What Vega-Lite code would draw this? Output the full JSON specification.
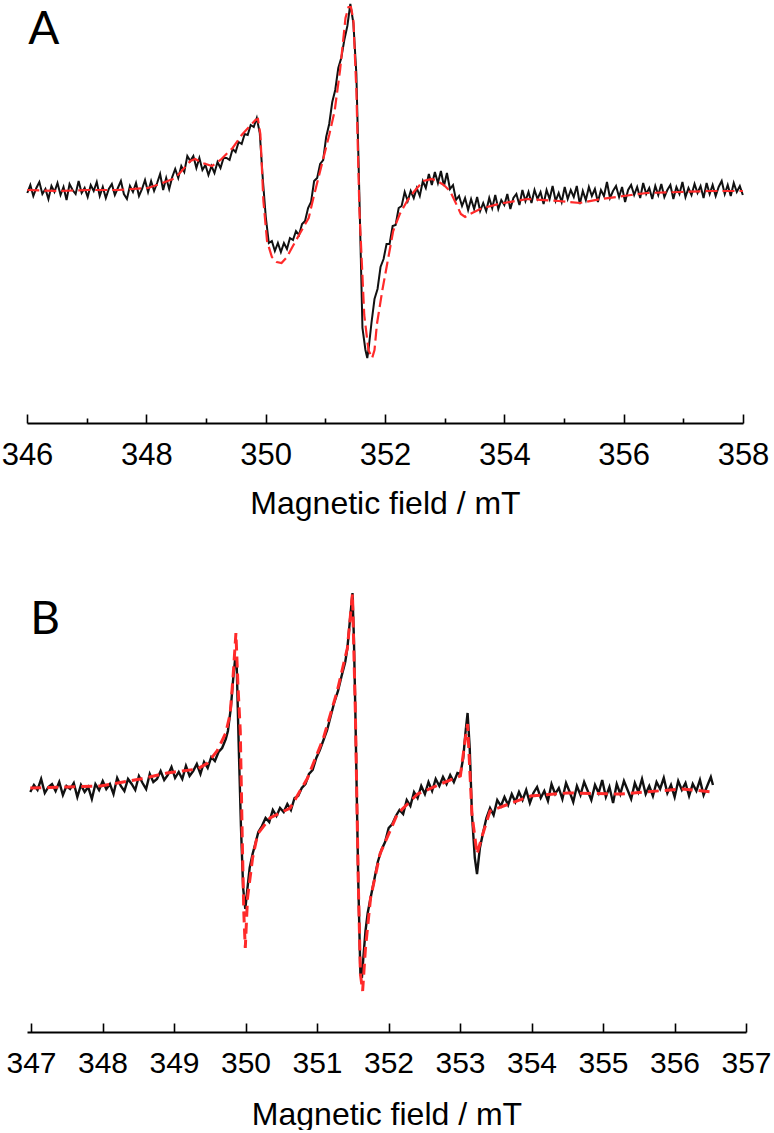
{
  "$schema": "https://vega.github.io/schema/vega-lite/v6.json",
  "background": "white",
  "padding": {"left": 1, "top": 0, "right": 2, "bottom": 0},
  "spacing": 67,
  "config": {
    "view": {"stroke": null},
    "axis": {"domainColor": "#000", "domainWidth": 2, "tickColor": "#000", "tickWidth": 1.6, "labelFont": "Liberation Sans", "labelColor": "#000", "titleFont": "Liberation Sans", "titleColor": "#000", "titleFontWeight": "normal", "grid": false, "labelFlush": false, "labelOverlap": false}
  },
  "datasets": {
    "a_exp": [
      {"mT":346.005,"signal":-3},{"mT":346.056,"signal":5},{"mT":346.106,"signal":-6},{"mT":346.157,"signal":2},{"mT":346.207,"signal":8},{"mT":346.258,"signal":-4},{"mT":346.309,"signal":1},{"mT":346.359,"signal":-9},{"mT":346.410,"signal":4},{"mT":346.460,"signal":-2},
      {"mT":346.511,"signal":7},{"mT":346.562,"signal":-5},{"mT":346.612,"signal":3},{"mT":346.663,"signal":-10},{"mT":346.713,"signal":6},{"mT":346.764,"signal":0},{"mT":346.815,"signal":-4},{"mT":346.865,"signal":9},{"mT":346.916,"signal":-3},{"mT":346.966,"signal":2},
      {"mT":347.017,"signal":-7},{"mT":347.068,"signal":5},{"mT":347.118,"signal":-1},{"mT":347.169,"signal":8},{"mT":347.219,"signal":-6},{"mT":347.270,"signal":3},{"mT":347.321,"signal":-8},{"mT":347.371,"signal":1},{"mT":347.422,"signal":6},{"mT":347.472,"signal":-5},
      {"mT":347.523,"signal":2},{"mT":347.574,"signal":9},{"mT":347.624,"signal":-4},{"mT":347.675,"signal":-9},{"mT":347.725,"signal":4},{"mT":347.776,"signal":-2},{"mT":347.827,"signal":7},{"mT":347.877,"signal":-6},{"mT":347.928,"signal":1},{"mT":347.978,"signal":10},
      {"mT":348.029,"signal":-2},{"mT":348.080,"signal":9},{"mT":348.130,"signal":-1},{"mT":348.181,"signal":7},{"mT":348.231,"signal":16},{"mT":348.282,"signal":0},{"mT":348.333,"signal":12},{"mT":348.383,"signal":1},{"mT":348.434,"signal":13},{"mT":348.484,"signal":21},
      {"mT":348.535,"signal":12},{"mT":348.586,"signal":24},{"mT":348.636,"signal":18},{"mT":348.687,"signal":34},{"mT":348.737,"signal":29},{"mT":348.788,"signal":34},{"mT":348.839,"signal":22},{"mT":348.889,"signal":32},{"mT":348.940,"signal":20},{"mT":348.990,"signal":25},
      {"mT":349.041,"signal":15},{"mT":349.092,"signal":24},{"mT":349.142,"signal":17},{"mT":349.193,"signal":28},{"mT":349.243,"signal":22},{"mT":349.294,"signal":32},{"mT":349.345,"signal":32},{"mT":349.395,"signal":30},{"mT":349.446,"signal":41},{"mT":349.496,"signal":38},
      {"mT":349.547,"signal":48},{"mT":349.598,"signal":46},{"mT":349.648,"signal":56},{"mT":349.699,"signal":55},{"mT":349.749,"signal":65},{"mT":349.800,"signal":63},{"mT":349.851,"signal":72},{"mT":349.901,"signal":57},{"mT":349.952,"signal":11},{"mT":350.002,"signal":-27},
      {"mT":350.053,"signal":-53},{"mT":350.104,"signal":-51},{"mT":350.154,"signal":-61},{"mT":350.205,"signal":-53},{"mT":350.255,"signal":-62},{"mT":350.306,"signal":-53},{"mT":350.357,"signal":-59},{"mT":350.407,"signal":-48},{"mT":350.458,"signal":-50},{"mT":350.508,"signal":-41},
      {"mT":350.559,"signal":-45},{"mT":350.610,"signal":-34},{"mT":350.660,"signal":-31},{"mT":350.711,"signal":-18},{"mT":350.761,"signal":-12},{"mT":350.812,"signal":9},{"mT":350.863,"signal":12},{"mT":350.913,"signal":26},{"mT":350.964,"signal":30},{"mT":351.014,"signal":53},
      {"mT":351.065,"signal":66},{"mT":351.116,"signal":88},{"mT":351.166,"signal":100},{"mT":351.217,"signal":122},{"mT":351.267,"signal":132},{"mT":351.318,"signal":150},{"mT":351.369,"signal":164},{"mT":351.419,"signal":186},{"mT":351.470,"signal":167},{"mT":351.520,"signal":116},
      {"mT":351.571,"signal":-7},{"mT":351.622,"signal":-138},{"mT":351.672,"signal":-160},{"mT":351.703,"signal":-168},{"mT":351.723,"signal":-160},{"mT":351.773,"signal":-133},{"mT":351.824,"signal":-109},{"mT":351.875,"signal":-99},{"mT":351.925,"signal":-77},{"mT":351.976,"signal":-69},{"mT":352.026,"signal":-54},
      {"mT":352.077,"signal":-54},{"mT":352.128,"signal":-36},{"mT":352.178,"signal":-35},{"mT":352.229,"signal":-18},{"mT":352.279,"signal":-16},{"mT":352.330,"signal":-2},{"mT":352.381,"signal":-11},{"mT":352.431,"signal":-1},{"mT":352.482,"signal":-8},{"mT":352.532,"signal":2},
      {"mT":352.583,"signal":-6},{"mT":352.634,"signal":9},{"mT":352.684,"signal":2},{"mT":352.735,"signal":16},{"mT":352.785,"signal":5},{"mT":352.836,"signal":18},{"mT":352.887,"signal":7},{"mT":352.937,"signal":19},{"mT":352.988,"signal":4},{"mT":353.038,"signal":17},
      {"mT":353.089,"signal":1},{"mT":353.140,"signal":5},{"mT":353.190,"signal":-10},{"mT":353.241,"signal":-6},{"mT":353.291,"signal":-16},{"mT":353.342,"signal":-8},{"mT":353.393,"signal":-20},{"mT":353.443,"signal":-9},{"mT":353.494,"signal":-19},{"mT":353.544,"signal":-7},
      {"mT":353.595,"signal":-21},{"mT":353.646,"signal":-13},{"mT":353.696,"signal":-21},{"mT":353.747,"signal":-8},{"mT":353.797,"signal":-18},{"mT":353.848,"signal":-5},{"mT":353.899,"signal":-19},{"mT":353.949,"signal":-10},{"mT":354.000,"signal":-15},{"mT":354.050,"signal":-4},
      {"mT":354.101,"signal":-19},{"mT":354.152,"signal":-8},{"mT":354.202,"signal":-4},{"mT":354.253,"signal":-15},{"mT":354.303,"signal":0},{"mT":354.354,"signal":-11},{"mT":354.405,"signal":-2},{"mT":354.455,"signal":-13},{"mT":354.506,"signal":0},{"mT":354.556,"signal":-9},
      {"mT":354.607,"signal":-2},{"mT":354.658,"signal":-14},{"mT":354.708,"signal":0},{"mT":354.759,"signal":-9},{"mT":354.809,"signal":4},{"mT":354.860,"signal":-11},{"mT":354.911,"signal":-3},{"mT":354.961,"signal":-12},{"mT":355.012,"signal":3},{"mT":355.062,"signal":-9},
      {"mT":355.113,"signal":0},{"mT":355.164,"signal":-7},{"mT":355.214,"signal":4},{"mT":355.265,"signal":-14},{"mT":355.315,"signal":-1},{"mT":355.366,"signal":-10},{"mT":355.417,"signal":3},{"mT":355.467,"signal":-6},{"mT":355.518,"signal":1},{"mT":355.568,"signal":-12},
      {"mT":355.619,"signal":0},{"mT":355.670,"signal":-6},{"mT":355.720,"signal":8},{"mT":355.771,"signal":-8},{"mT":355.821,"signal":-1},{"mT":355.872,"signal":4},{"mT":355.923,"signal":-7},{"mT":355.973,"signal":3},{"mT":356.024,"signal":-12},{"mT":356.074,"signal":0},
      {"mT":356.125,"signal":5},{"mT":356.176,"signal":-5},{"mT":356.226,"signal":3},{"mT":356.277,"signal":-8},{"mT":356.327,"signal":7},{"mT":356.378,"signal":-4},{"mT":356.429,"signal":2},{"mT":356.479,"signal":-9},{"mT":356.530,"signal":4},{"mT":356.580,"signal":-5},
      {"mT":356.631,"signal":6},{"mT":356.682,"signal":-7},{"mT":356.732,"signal":0},{"mT":356.783,"signal":5},{"mT":356.833,"signal":-9},{"mT":356.884,"signal":3},{"mT":356.935,"signal":-4},{"mT":356.985,"signal":8},{"mT":357.036,"signal":-7},{"mT":357.086,"signal":2},
      {"mT":357.137,"signal":-5},{"mT":357.188,"signal":6},{"mT":357.238,"signal":-3},{"mT":357.289,"signal":4},{"mT":357.339,"signal":-8},{"mT":357.390,"signal":7},{"mT":357.441,"signal":-4},{"mT":357.491,"signal":5},{"mT":357.542,"signal":-6},{"mT":357.592,"signal":3},
      {"mT":357.643,"signal":9},{"mT":357.694,"signal":-4},{"mT":357.744,"signal":5},{"mT":357.795,"signal":-6},{"mT":357.845,"signal":7},{"mT":357.896,"signal":-2},{"mT":357.947,"signal":4},{"mT":357.997,"signal":-5}
    ],
    "a_fit": [
      {"mT":346.005,"signal":0},{"mT":346.511,"signal":-1},{"mT":347.017,"signal":0},{"mT":347.523,"signal":0},{"mT":348.029,"signal":2},{"mT":348.231,"signal":6},{"mT":348.484,"signal":12},{"mT":348.636,"signal":22},{"mT":348.737,"signal":29},{"mT":348.818,"signal":31},
      {"mT":348.940,"signal":27},{"mT":349.102,"signal":24},{"mT":349.243,"signal":30},{"mT":349.446,"signal":42},{"mT":349.598,"signal":55},{"mT":349.749,"signal":65},{"mT":349.830,"signal":70},{"mT":349.871,"signal":71},{"mT":349.911,"signal":56},{"mT":349.962,"signal":-11},
      {"mT":350.023,"signal":-51},{"mT":350.104,"signal":-67},{"mT":350.185,"signal":-72},{"mT":350.266,"signal":-73},{"mT":350.357,"signal":-67},{"mT":350.438,"signal":-58},{"mT":350.559,"signal":-45},{"mT":350.721,"signal":-28},{"mT":350.812,"signal":-5},{"mT":350.943,"signal":26},
      {"mT":351.065,"signal":55},{"mT":351.156,"signal":79},{"mT":351.247,"signal":120},{"mT":351.338,"signal":172},{"mT":351.389,"signal":183},{"mT":351.429,"signal":183},{"mT":351.470,"signal":170},{"mT":351.520,"signal":100},{"mT":351.571,"signal":-20},{"mT":351.652,"signal":-125},
      {"mT":351.723,"signal":-160},{"mT":351.784,"signal":-168},{"mT":351.824,"signal":-160},{"mT":351.865,"signal":-134},{"mT":351.956,"signal":-100},{"mT":352.036,"signal":-74},{"mT":352.137,"signal":-41},{"mT":352.248,"signal":-24},{"mT":352.370,"signal":-11},{"mT":352.481,"signal":-2},
      {"mT":352.643,"signal":9},{"mT":352.785,"signal":11},{"mT":352.876,"signal":9},{"mT":352.987,"signal":5},{"mT":353.089,"signal":-1},{"mT":353.210,"signal":-16},{"mT":353.271,"signal":-24},{"mT":353.342,"signal":-27},{"mT":353.423,"signal":-24},{"mT":353.595,"signal":-19},
      {"mT":353.899,"signal":-14},{"mT":354.385,"signal":-9},{"mT":354.911,"signal":-11},{"mT":355.265,"signal":-13},{"mT":355.620,"signal":-9},{"mT":356.125,"signal":-5},{"mT":356.388,"signal":-3},{"mT":356.935,"signal":-2},{"mT":357.441,"signal":-1},{"mT":357.997,"signal":-1}
    ],
    "b_exp": [
      {"mT":346.990,"signal":-4},{"mT":347.041,"signal":3},{"mT":347.091,"signal":-2},{"mT":347.142,"signal":9},{"mT":347.193,"signal":-5},{"mT":347.243,"signal":1},{"mT":347.294,"signal":4},{"mT":347.344,"signal":-3},{"mT":347.395,"signal":6},{"mT":347.446,"signal":-7},
      {"mT":347.496,"signal":2},{"mT":347.547,"signal":-1},{"mT":347.598,"signal":5},{"mT":347.648,"signal":-9},{"mT":347.699,"signal":3},{"mT":347.750,"signal":-4},{"mT":347.800,"signal":1},{"mT":347.851,"signal":-11},{"mT":347.901,"signal":4},{"mT":347.952,"signal":-2},
      {"mT":348.003,"signal":7},{"mT":348.053,"signal":-1},{"mT":348.104,"signal":4},{"mT":348.154,"signal":-6},{"mT":348.205,"signal":10},{"mT":348.256,"signal":2},{"mT":348.306,"signal":-3},{"mT":348.357,"signal":9},{"mT":348.408,"signal":4},{"mT":348.458,"signal":-2},
      {"mT":348.509,"signal":12},{"mT":348.560,"signal":5},{"mT":348.610,"signal":-1},{"mT":348.661,"signal":14},{"mT":348.711,"signal":6},{"mT":348.762,"signal":9},{"mT":348.813,"signal":17},{"mT":348.863,"signal":8},{"mT":348.914,"signal":13},{"mT":348.965,"signal":21},
      {"mT":349.015,"signal":10},{"mT":349.066,"signal":16},{"mT":349.116,"signal":9},{"mT":349.167,"signal":22},{"mT":349.218,"signal":12},{"mT":349.268,"signal":17},{"mT":349.319,"signal":24},{"mT":349.370,"signal":14},{"mT":349.420,"signal":26},{"mT":349.471,"signal":20},
      {"mT":349.521,"signal":31},{"mT":349.572,"signal":27},{"mT":349.623,"signal":36},{"mT":349.673,"signal":40},{"mT":349.724,"signal":49},{"mT":349.754,"signal":57},{"mT":349.795,"signal":80},{"mT":349.825,"signal":107},{"mT":349.856,"signal":130},{"mT":349.876,"signal":126},
      {"mT":349.906,"signal":40},{"mT":349.937,"signal":-40},{"mT":349.967,"signal":-100},{"mT":349.997,"signal":-121},{"mT":350.028,"signal":-100},{"mT":350.058,"signal":-80},{"mT":350.099,"signal":-66},{"mT":350.129,"signal":-58},{"mT":350.180,"signal":-44},{"mT":350.230,"signal":-38},
      {"mT":350.281,"signal":-30},{"mT":350.332,"signal":-34},{"mT":350.382,"signal":-22},{"mT":350.433,"signal":-28},{"mT":350.483,"signal":-20},{"mT":350.534,"signal":-24},{"mT":350.585,"signal":-16},{"mT":350.635,"signal":-22},{"mT":350.686,"signal":-10},{"mT":350.737,"signal":-8},
      {"mT":350.787,"signal":0},{"mT":350.838,"signal":4},{"mT":350.888,"signal":14},{"mT":350.939,"signal":18},{"mT":350.990,"signal":30},{"mT":351.040,"signal":38},{"mT":351.091,"signal":48},{"mT":351.142,"signal":58},{"mT":351.192,"signal":72},{"mT":351.243,"signal":86},
      {"mT":351.294,"signal":97},{"mT":351.344,"signal":112},{"mT":351.395,"signal":126},{"mT":351.425,"signal":140},{"mT":351.466,"signal":172},{"mT":351.496,"signal":195},{"mT":351.516,"signal":150},{"mT":351.537,"signal":74},{"mT":351.557,"signal":-10},{"mT":351.577,"signal":-93},
      {"mT":351.607,"signal":-186},{"mT":351.628,"signal":-190},{"mT":351.648,"signal":-170},{"mT":351.678,"signal":-143},{"mT":351.709,"signal":-125},{"mT":351.749,"signal":-110},{"mT":351.800,"signal":-92},{"mT":351.850,"signal":-74},{"mT":351.901,"signal":-62},{"mT":351.952,"signal":-54},
      {"mT":352.002,"signal":-40},{"mT":352.053,"signal":-36},{"mT":352.103,"signal":-28},{"mT":352.154,"signal":-22},{"mT":352.205,"signal":-26},{"mT":352.255,"signal":-12},{"mT":352.306,"signal":-18},{"mT":352.357,"signal":-4},{"mT":352.407,"signal":-10},{"mT":352.458,"signal":2},
      {"mT":352.509,"signal":-6},{"mT":352.559,"signal":6},{"mT":352.610,"signal":-3},{"mT":352.660,"signal":9},{"mT":352.711,"signal":2},{"mT":352.762,"signal":11},{"mT":352.812,"signal":4},{"mT":352.863,"signal":13},{"mT":352.914,"signal":6},{"mT":352.964,"signal":15},
      {"mT":353.005,"signal":14},{"mT":353.045,"signal":30},{"mT":353.076,"signal":55},{"mT":353.106,"signal":75},{"mT":353.136,"signal":40},{"mT":353.167,"signal":-26},{"mT":353.207,"signal":-70},{"mT":353.238,"signal":-86},{"mT":353.278,"signal":-60},{"mT":353.319,"signal":-46},
      {"mT":353.369,"signal":-30},{"mT":353.420,"signal":-20},{"mT":353.470,"signal":-27},{"mT":353.521,"signal":-12},{"mT":353.572,"signal":-18},{"mT":353.622,"signal":-9},{"mT":353.673,"signal":-17},{"mT":353.724,"signal":-6},{"mT":353.774,"signal":-14},{"mT":353.825,"signal":-4},
      {"mT":353.875,"signal":-12},{"mT":353.926,"signal":-2},{"mT":353.977,"signal":-15},{"mT":354.027,"signal":-5},{"mT":354.078,"signal":1},{"mT":354.129,"signal":-10},{"mT":354.179,"signal":-3},{"mT":354.230,"signal":-13},{"mT":354.280,"signal":4},{"mT":354.331,"signal":-6},
      {"mT":354.382,"signal":0},{"mT":354.432,"signal":-11},{"mT":354.483,"signal":5},{"mT":354.534,"signal":-4},{"mT":354.584,"signal":-14},{"mT":354.635,"signal":2},{"mT":354.685,"signal":-7},{"mT":354.736,"signal":6},{"mT":354.787,"signal":-3},{"mT":354.837,"signal":-12},
      {"mT":354.888,"signal":3},{"mT":354.939,"signal":-5},{"mT":354.989,"signal":8},{"mT":355.040,"signal":-9},{"mT":355.090,"signal":1},{"mT":355.141,"signal":-15},{"mT":355.192,"signal":4},{"mT":355.242,"signal":-6},{"mT":355.293,"signal":7},{"mT":355.344,"signal":-2},
      {"mT":355.394,"signal":-11},{"mT":355.445,"signal":5},{"mT":355.495,"signal":-4},{"mT":355.546,"signal":9},{"mT":355.597,"signal":-6},{"mT":355.647,"signal":2},{"mT":355.698,"signal":-8},{"mT":355.749,"signal":6},{"mT":355.799,"signal":-1},{"mT":355.850,"signal":10},
      {"mT":355.900,"signal":-5},{"mT":355.951,"signal":3},{"mT":356.002,"signal":-9},{"mT":356.052,"signal":7},{"mT":356.103,"signal":-2},{"mT":356.154,"signal":5},{"mT":356.204,"signal":-8},{"mT":356.255,"signal":4},{"mT":356.306,"signal":-3},{"mT":356.356,"signal":8},
      {"mT":356.407,"signal":-7},{"mT":356.457,"signal":2},{"mT":356.508,"signal":11},{"mT":356.538,"signal":3}
    ],
    "b_fit": [
      {"mT":346.990,"signal":0},{"mT":347.496,"signal":1},{"mT":347.972,"signal":2},{"mT":348.529,"signal":9},{"mT":348.904,"signal":15},{"mT":349.116,"signal":17},{"mT":349.329,"signal":19},{"mT":349.471,"signal":25},{"mT":349.602,"signal":37},{"mT":349.724,"signal":55},
      {"mT":349.785,"signal":74},{"mT":349.825,"signal":110},{"mT":349.866,"signal":155},{"mT":349.896,"signal":100},{"mT":349.927,"signal":57},{"mT":349.957,"signal":-60},{"mT":349.977,"signal":-126},{"mT":349.997,"signal":-160},{"mT":350.028,"signal":-110},{"mT":350.099,"signal":-70},
      {"mT":350.170,"signal":-46},{"mT":350.342,"signal":-30},{"mT":350.625,"signal":-20},{"mT":350.868,"signal":10},{"mT":351.091,"signal":50},{"mT":351.283,"signal":97},{"mT":351.425,"signal":140},{"mT":351.496,"signal":194},{"mT":351.537,"signal":74},{"mT":351.577,"signal":-93},
      {"mT":351.607,"signal":-186},{"mT":351.638,"signal":-203},{"mT":351.678,"signal":-160},{"mT":351.749,"signal":-110},{"mT":351.881,"signal":-66},{"mT":352.124,"signal":-26},{"mT":352.407,"signal":-6},{"mT":352.762,"signal":5},{"mT":353.005,"signal":12},{"mT":353.076,"signal":50},
      {"mT":353.106,"signal":64},{"mT":353.167,"signal":-26},{"mT":353.238,"signal":-66},{"mT":353.319,"signal":-46},{"mT":353.420,"signal":-23},{"mT":353.987,"signal":-8},{"mT":354.503,"signal":-5},{"mT":355.242,"signal":-6},{"mT":356.103,"signal":-1},{"mT":356.538,"signal":-4}
    ]
  },
  "vconcat": [
    {
      "width": 716,
      "height": 422,
      "layer": [
        {
          "data": {"name": "a_exp"},
          "mark": {"type": "line", "color": "#111111", "strokeWidth": 2},
          "encoding": {
            "x": {"field": "mT", "type": "quantitative", "title": "Magnetic field / mT",
              "scale": {"domain": [346, 358], "nice": false, "zero": false},
              "axis": {"values": [346,347,348,349,350,351,352,353,354,355,356,357,358],
                "format": ".0f",
                "labelExpr": "datum.value % 2 === 0 ? datum.label : ''",
                "tickSize": -9,
                "tickDash": {"condition": {"test": "datum.value % 2 !== 0", "value": [5, 20]}, "value": [30, 1]},
                "labelFontSize": 31, "titleFontSize": 32, "labelPadding": 26, "titlePadding": 18}},
            "y": {"field": "signal", "type": "quantitative", "scale": {"domain": [-233, 189], "nice": false, "zero": false}, "axis": null}
          }
        },
        {
          "data": {"name": "a_fit"},
          "mark": {"type": "line", "color": "#ff2a2a", "strokeWidth": 2.2, "strokeDash": [12, 5]},
          "encoding": {
            "x": {"field": "mT", "type": "quantitative"},
            "y": {"field": "signal", "type": "quantitative"}
          }
        },
        {
          "data": {"values": [{}]},
          "mark": {"type": "text", "text": "A", "font": "Lato", "fontSize": 46, "align": "left", "baseline": "alphabetic", "color": "#000"},
          "encoding": {
            "x": {"datum": 346.02, "type": "quantitative"},
            "y": {"datum": 146, "type": "quantitative"}
          }
        }
      ]
    },
    {
      "width": 719,
      "height": 446,
      "layer": [
        {
          "data": {"name": "b_exp"},
          "mark": {"type": "line", "color": "#111111", "strokeWidth": 2.4},
          "encoding": {
            "x": {"field": "mT", "type": "quantitative", "title": "Magnetic field / mT",
              "scale": {"domain": [346.944, 357], "nice": false, "zero": false},
              "axis": {"values": [347,347.5,348,348.5,349,349.5,350,350.5,351,351.5,352,352.5,353,353.5,354,354.5,355,355.5,356,356.5,357],
                "format": ".0f",
                "labelExpr": "datum.value % 1 === 0 ? datum.label : ''",
                "tickSize": -9,
                "tickDash": {"condition": {"test": "datum.value % 1 !== 0", "value": [5, 20]}, "value": [30, 1]},
                "labelFontSize": 30, "titleFontSize": 32, "labelPadding": 25, "titlePadding": 21}},
            "y": {"field": "signal", "type": "quantitative", "scale": {"domain": [-244, 202], "nice": false, "zero": false}, "axis": null}
          }
        },
        {
          "data": {"name": "b_fit"},
          "mark": {"type": "line", "color": "#ff2a2a", "strokeWidth": 3, "strokeDash": [11, 6]},
          "encoding": {
            "x": {"field": "mT", "type": "quantitative"},
            "y": {"field": "signal", "type": "quantitative"}
          }
        },
        {
          "data": {"values": [{}]},
          "mark": {"type": "text", "text": "B", "font": "Lato", "fontSize": 46, "align": "left", "baseline": "alphabetic", "color": "#000"},
          "encoding": {
            "x": {"datum": 346.99, "type": "quantitative"},
            "y": {"datum": 154, "type": "quantitative"}
          }
        }
      ]
    }
  ]
}
